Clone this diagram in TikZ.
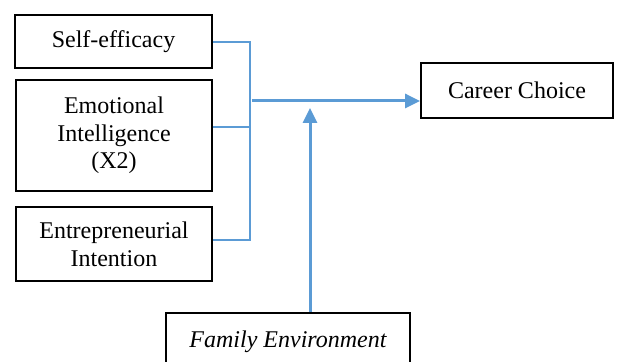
\documentclass[tikz,border=0pt]{standalone}
\usepackage{fontspec}
\setmainfont{Liberation Serif}
\usetikzlibrary{arrows.meta}
\definecolor{cblue}{RGB}{91,155,213}
\tikzset{careermod/.style={x=0.5pt,y=-0.5pt,font=\fontsize{12}{13.8}\selectfont},
  varbox/.style={draw,line width=0.9pt,align=center,inner sep=0pt},
  bracket/.style={cblue,line width=0.6pt},
  flow/.style={cblue,line width=1.5pt,-{Triangle[length=7.5pt,width=7pt]}}}

\begin{document}
\begin{tikzpicture}[careermod]
    \useasboundingbox (0,0) rectangle (617,362);
    \node[varbox,minimum width=98.5pt,minimum height=26.5pt] (selfeff) at (113.5,41.5) {Self-efficacy};
    \node[varbox,minimum width=98pt,minimum height=55.5pt] (emotional) at (114,135.5) {Emotional\\Intelligence\\(X2)};
    \node[varbox,minimum width=98pt,minimum height=37pt] (entre) at (114,244) {Entrepreneurial\\Intention};
    \node[varbox,minimum width=96pt,minimum height=27.5pt] (career) at (517,90.5) {Career Choice};
    \node[varbox,minimum width=122pt,minimum height=29pt] (family) at (288,342) {\itshape Family Environment};
    \coordinate (brtop) at (250,42);
    \coordinate (brmid) at (250,127);
    \coordinate (brbot) at (250,240);
    \draw[bracket] (selfeff.east |- brtop) -- (brtop) -- (brbot) -- (brbot -| entre.east);
    \draw[bracket] (brmid -| emotional.east) -- (brmid);
    \coordinate (join) at (252,101);
    \draw[flow] (join) -- (join -| career.west);
    \coordinate (modtip) at (310,108);
    \draw[flow] (family.north -| modtip) -- (modtip);
\end{tikzpicture}
\end{document}
